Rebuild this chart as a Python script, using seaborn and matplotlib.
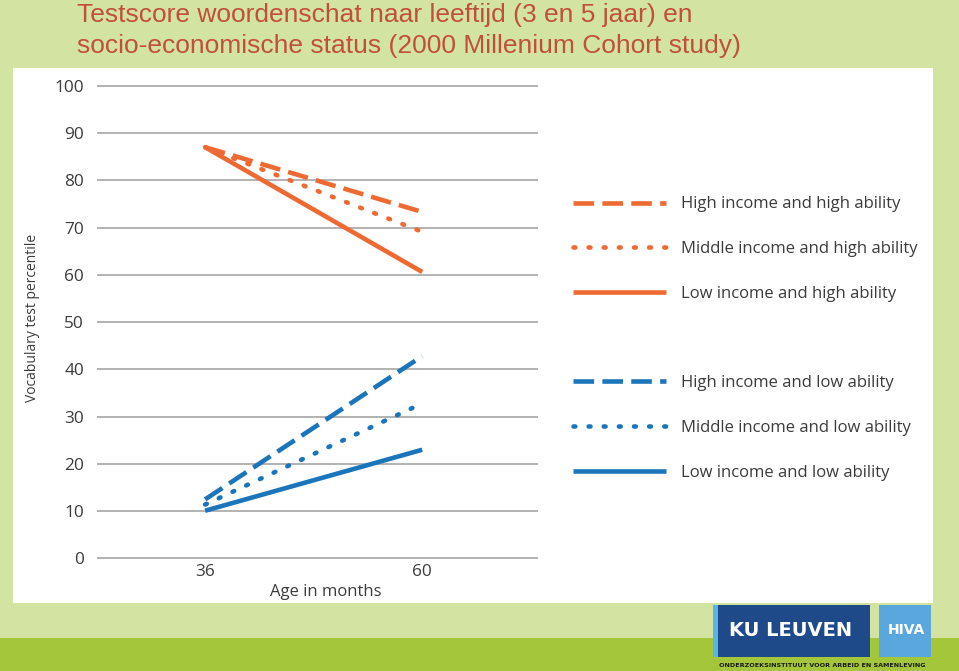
# Vocabulary test percentile by age and income/ability group (Millennium Cohort)
import matplotlib.pyplot as plt
from matplotlib.lines import Line2D
from matplotlib.patches import Rectangle
import seaborn as sns

ages = [36, 60]
labels = ["High income and high ability",
          "Middle income and high ability",
          "Low income and high ability",
          "High income and low ability",
          "Middle income and low ability",
          "Low income and low ability"]
high_inc_high_ab = [87.0, 73.3]
mid_inc_high_ab = [87.0, 69.1]
low_inc_high_ab = [87.0, 60.6]
high_inc_low_ab = [12.5, 42.8]
mid_inc_low_ab = [11.4, 32.8]
low_inc_low_ab = [10.1, 23.0]
yticks = list(range(0, 101, 10))

ORANGE = "#ee6a33"
BLUE = "#1b75bb"
BG = "#d3e4a2"
TXT = "#3c3c3c"

sns.set_style("white")
plt.rcParams['font.family'] = ['Open Sans', 'DejaVu Sans']

fig = plt.figure(figsize=(9.59, 6.71), dpi=100, facecolor=BG)

# white slide panel + dark green bottom band
fig.add_artist(Rectangle((13/959, 1-603/671), 920/959, 535/671, transform=fig.transFigure,
                         facecolor="white", edgecolor="none", zorder=-2))
fig.add_artist(Rectangle((0, 0), 1, 33/671, transform=fig.transFigure,
                         facecolor="#a3c63a", edgecolor="none", zorder=-2))

ax = fig.add_axes([97/959, 1-563.2/671, 441/959, 482.2/671])
ax.set_facecolor("none")

dashed = (0, (4.5, 1.8))
dotted = (0, (0.4, 2.9))
series = [
    (high_inc_high_ab, ORANGE, dashed, "butt"),
    (mid_inc_high_ab, ORANGE, dotted, "round"),
    (low_inc_high_ab, ORANGE, "-", "butt"),
    (high_inc_low_ab, BLUE, dashed, "butt"),
    (mid_inc_low_ab, BLUE, dotted, "round"),
    (low_inc_low_ab, BLUE, "-", "butt"),
]
for (vals, col, ls, cap), lab in zip(series, labels):
    sns.lineplot(x=ages, y=vals, color=col, lw=3.3, linestyle=ls,
                 dash_capstyle=cap, solid_capstyle="butt", label=lab, ax=ax)

ax.set_xlim(24.05, 72.8)
ax.set_ylim(-1, 101)
ax.set_xticks(ages)
ax.set_yticks(yticks)
ax.yaxis.grid(True, color="#a6a6a6", lw=1.2)
ax.xaxis.grid(False)
ax.set_axisbelow(True)
for s in ax.spines.values():
    s.set_visible(False)
ax.tick_params(axis="y", length=0, pad=9.4, labelsize=12.4, labelcolor=TXT)
ax.tick_params(axis="x", length=0, pad=0.5, labelsize=12.4, labelcolor=TXT)
ax.set_xlabel("")
ax.set_ylabel("")

fig.text(33/959, 1-318/671, "Vocabulary test percentile", rotation=90,
         ha="center", va="center", fontsize=10, color=TXT)
fig.text(326/959, 1-592/671, "Age in months", ha="center", va="center",
         fontsize=12, color=TXT)

# legend with an empty row between the two groups
handles = ax.get_lines()[:6]
blank = Line2D([], [], color="none")
leg_handles = list(handles[:3]) + [blank] + list(handles[3:])
leg_labels = labels[:3] + [" "] + labels[3:]
ax.legend(leg_handles, leg_labels, loc="center left",
          bbox_to_anchor=(573/959, 1-338.5/671), bbox_transform=fig.transFigure,
          frameon=False, borderpad=0, borderaxespad=0, handlelength=5.6,
          handletextpad=0.9, labelspacing=1.72, fontsize=12, labelcolor=TXT)

# title
fig.text(77/959, 1-22/671, "Testscore woordenschat naar leeftijd (3 en 5 jaar) en",
         ha="left", va="baseline", fontsize=19, color="#c14f3c", family="Liberation Sans")
fig.text(77/959, 1-53/671, "socio-economische status (2000 Millenium Cohort study)",
         ha="left", va="baseline", fontsize=19, color="#c14f3c", family="Liberation Sans")

# logos
fig.add_artist(Rectangle((713/959, 1-657/671), 5/959, 52/671, transform=fig.transFigure,
                         facecolor="#5bb4e5", edgecolor="none"))
fig.add_artist(Rectangle((718/959, 1-657/671), 152/959, 52/671, transform=fig.transFigure,
                         facecolor="#1e4a8a", edgecolor="none"))
fig.add_artist(Rectangle((879/959, 1-657/671), 52/959, 52/671, transform=fig.transFigure,
                         facecolor="#5aa7dd", edgecolor="none"))
fig.text(791/959, 1-630/671, "KU LEUVEN", ha="center", va="center", fontsize=14,
         fontweight="bold", color="white", family="DejaVu Sans")
fig.text(906/959, 1-630/671, "HIVA", ha="center", va="center", fontsize=10,
         fontweight="bold", color="white", family="DejaVu Sans")
fig.text(822/959, 1-665.5/671, "ONDERZOEKSINSTITUUT VOOR ARBEID EN SAMENLEVING",
         ha="center", va="center", fontsize=4.6, fontweight="bold", color="#1a1a1a",
         family="DejaVu Sans")

fig.savefig("out.png", dpi=100, facecolor=BG)
